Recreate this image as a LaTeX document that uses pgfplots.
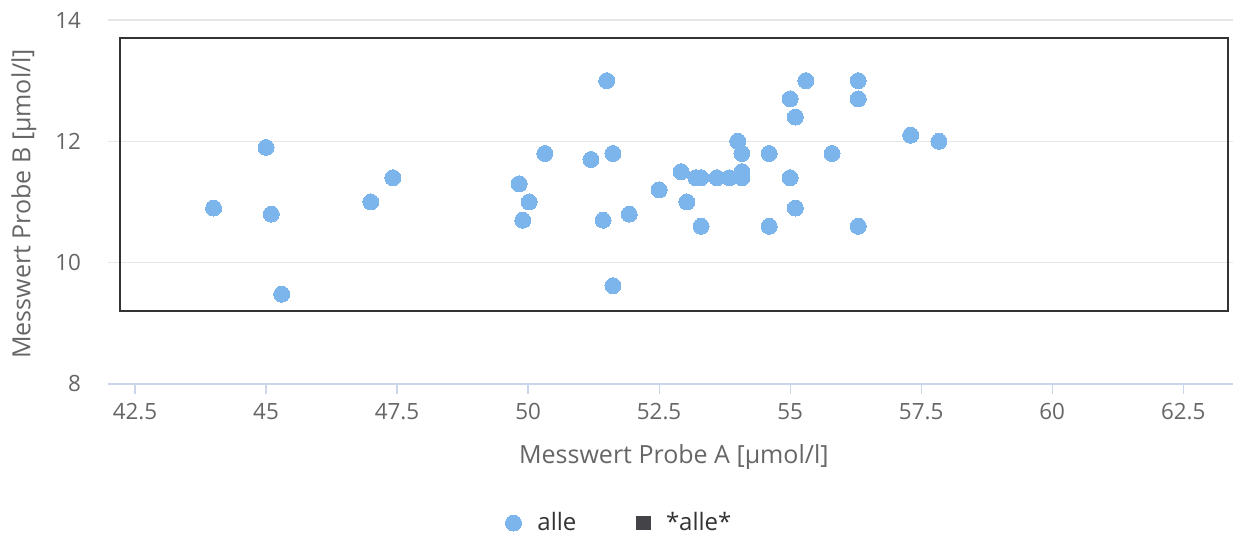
\documentclass[border=0pt]{standalone}
\usepackage{pgfplots}
\pgfplotsset{compat=1.18}
\usepackage{fontspec}
\setmainfont{Open Sans}
\definecolor{cblue}{HTML}{7CB5EC}
\definecolor{cdark}{HTML}{434348}
\definecolor{cbox}{HTML}{333333}
\definecolor{ctext}{HTML}{666666}
\definecolor{cgrid}{HTML}{E6E6E6}
\definecolor{caxis}{HTML}{CCD6EB}
\begin{document}
\begin{tikzpicture}
\path[use as bounding box] (-54pt,-75.5pt) rectangle (562.5pt,192pt);
\begin{axis}[
  at={(0,0)}, anchor=origin,
  scale only axis, width=562.5pt, height=182pt,
  xmin=41.985, xmax=63.45, ymin=8, ymax=14,
  enlargelimits=false,
  axis x line*=bottom,
  axis y line*=left,
  y axis line style={draw=none},
  x axis line style={draw=caxis, line width=0.6pt},
  xtick={42.5,45,47.5,50,52.5,55,57.5,60,62.5},
  ytick={8,10,12,14},
  tick align=outside,
  major tick length=5pt,
  xtick style={draw=caxis, line width=0.6pt},
  ytick style={draw=none},
  ymajorgrids,
  grid style={draw=cgrid, line width=0.6pt},
  tick label style={font=\fontsize{11.2}{13}\selectfont, text=ctext},
  /pgf/number format/assume math mode=true,
  xticklabel style={yshift=-1pt},
  yticklabel style={xshift=-5pt},
  xlabel={Messwert Probe A [µmol/l]},
  ylabel={Messwert Probe B [µmol/l]},
  label style={font=\fontsize{12.5}{14}\selectfont, text=ctext},
  xlabel style={at={(axis description cs:0.503,-0.2)}, anchor=center},
  ylabel style={at={(axis description cs:-0.0748,0.495)}, anchor=center},
  legend columns=2,
  legend style={draw=none, fill=none, at={(axis description cs:0.4555,-0.382)}, anchor=center,
    font=\fontsize{12}{14}\selectfont, text=black!80,
    /tikz/every odd column/.append style={column sep=6pt},
    /tikz/every even column/.append style={column sep=28pt}},
  clip=false,
]
\addplot[only marks, mark=*, mark size=4pt, mark options={draw=cblue, fill=cblue, line width=0pt}] coordinates {
(44.0,10.9) (45.0,11.9) (45.1,10.8) (45.3,9.48) (47.0,11.0) (47.42,11.4)
(49.83,11.3) (49.9,10.7) (50.02,11.0) (50.32,11.8) (51.2,11.7) (51.43,10.7)
(51.5,13.0) (51.62,11.8) (51.62,9.62) (51.93,10.8) (52.5,11.2) (52.92,11.5)
(53.03,11.0) (53.2,11.4) (53.3,11.4) (53.3,10.6) (53.6,11.4) (53.84,11.4)
(54.0,12.0) (54.08,11.8) (54.08,11.5) (54.08,11.4) (54.6,11.8) (54.6,10.6)
(55.0,12.7) (55.0,11.4) (55.1,12.4) (55.1,10.9) (55.3,13.0) (55.8,11.8)
(56.3,13.0) (56.3,12.7) (56.3,10.6) (57.3,12.1) (57.84,12.0)
};
\addlegendentry{alle}
\addplot[draw=cbox, line width=1pt, forget plot] coordinates {
(42.21,13.70) (63.36,13.70) (63.36,9.20) (42.21,9.20) (42.21,13.70)
} -- cycle;
\addlegendimage{only marks, mark=square*, mark size=3.4pt, mark options={draw=cdark, fill=cdark}}
\addlegendentry{*alle*}
\end{axis}
\end{tikzpicture}
\end{document}
